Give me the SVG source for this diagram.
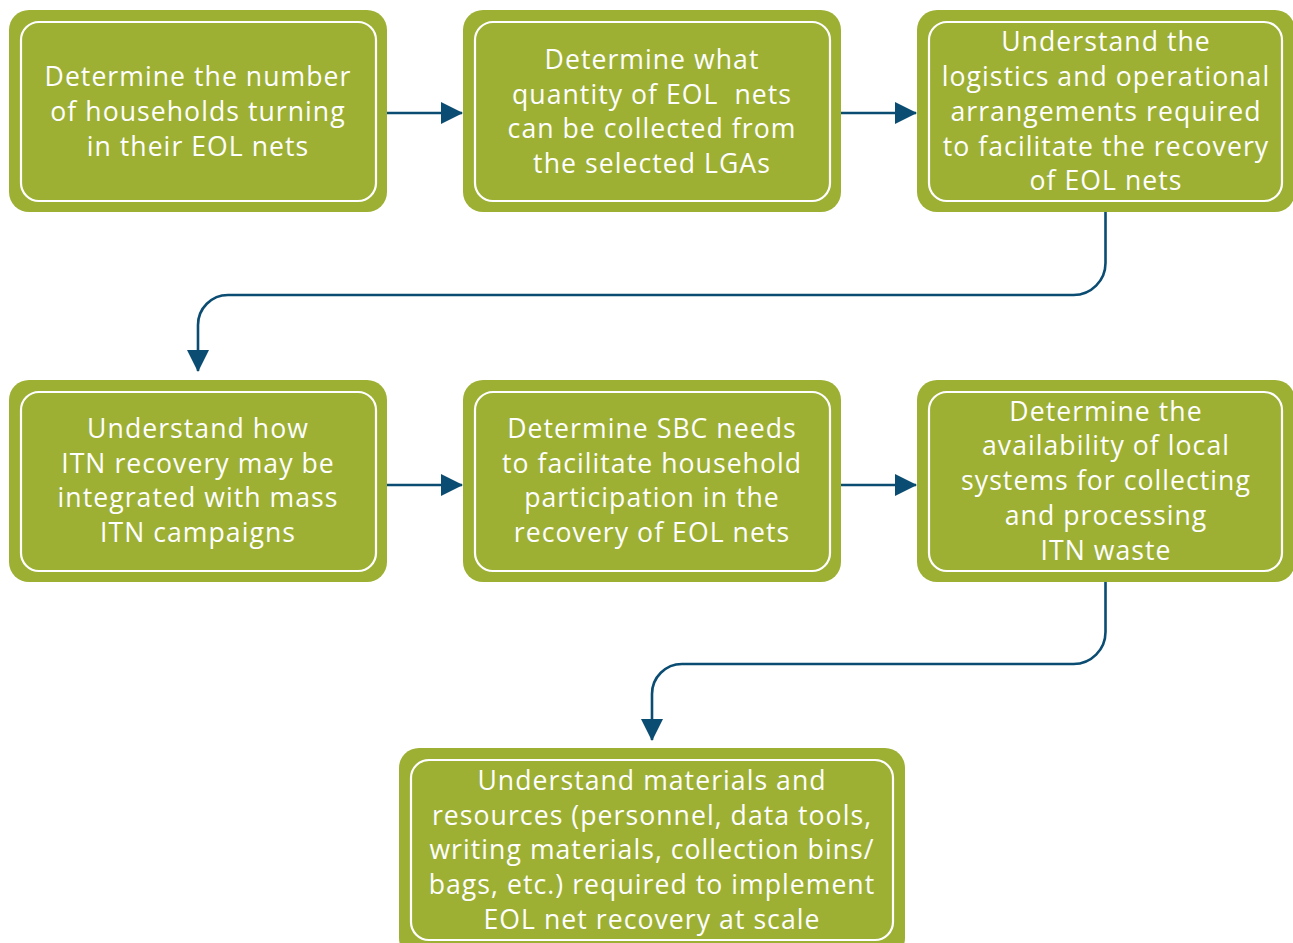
<svg xmlns="http://www.w3.org/2000/svg" width="1293" height="943" viewBox="0 0 1293 943">
<style>
.outer{fill:#9DB034;}
.inner{fill:none;stroke:#ffffff;stroke-width:2.2;}
.t{font-family:"Open Sans","Liberation Sans",sans-serif;font-size:26.6px;fill:#ffffff;text-anchor:middle;letter-spacing:1.05px;white-space:pre;}
.c{fill:none;stroke:#0B4C72;stroke-width:2.6;}
</style>
<defs>
<marker id="ah" viewBox="0 0 22 22" refX="21" refY="11" markerWidth="22" markerHeight="22" markerUnits="userSpaceOnUse" orient="auto">
<path d="M0,0 L22,11 L0,22 Z" fill="#0B4C72"/>
</marker>
</defs>
<g id="connectors">
<path class="c" d="M387,113 H462" marker-end="url(#ah)"/>
<path class="c" d="M841,113 H916" marker-end="url(#ah)"/>
<path class="c" d="M387,485 H462" marker-end="url(#ah)"/>
<path class="c" d="M841,485 H916" marker-end="url(#ah)"/>
<path class="c" d="M1105.5,212 V263 A32,32 0 0 1 1073.5,295 H228 A30,30 0 0 0 198,325 V371" marker-end="url(#ah)"/>
<path class="c" d="M1105.5,582 V632 A32,32 0 0 1 1073.5,664 H682 A30,30 0 0 0 652,694 V740" marker-end="url(#ah)"/>
</g>
<g id="n1">
<rect class="outer" x="9" y="10" width="378" height="202" rx="20"/>
<rect class="inner" x="21" y="22" width="355" height="179" rx="18"/>
<text class="t"><tspan x="198" y="86">Determine the number</tspan><tspan x="198" y="121">of households turning</tspan><tspan x="198" y="156">in their EOL nets</tspan></text>
</g>
<g id="n2">
<rect class="outer" x="463" y="10" width="378" height="202" rx="20"/>
<rect class="inner" x="475" y="22" width="355" height="179" rx="18"/>
<text class="t"><tspan x="652" y="69">Determine what</tspan><tspan x="652" y="104">quantity of EOL  nets</tspan><tspan x="652" y="138">can be collected from</tspan><tspan x="652" y="173">the selected LGAs</tspan></text>
</g>
<g id="n3">
<rect class="outer" x="917" y="10" width="378" height="202" rx="20"/>
<rect class="inner" x="929" y="22" width="353" height="179" rx="18"/>
<text class="t"><tspan x="1106" y="51">Understand the</tspan><tspan x="1106" y="86">logistics and operational</tspan><tspan x="1106" y="121">arrangements required</tspan><tspan x="1106" y="156">to facilitate the recovery</tspan><tspan x="1106" y="190">of EOL nets</tspan></text>
</g>
<g id="n4">
<rect class="outer" x="9" y="380" width="378" height="202" rx="20"/>
<rect class="inner" x="21" y="392" width="355" height="179" rx="18"/>
<text class="t"><tspan x="198" y="438">Understand how</tspan><tspan x="198" y="473">ITN recovery may be</tspan><tspan x="198" y="507">integrated with mass</tspan><tspan x="198" y="542">ITN campaigns</tspan></text>
</g>
<g id="n5">
<rect class="outer" x="463" y="380" width="378" height="202" rx="20"/>
<rect class="inner" x="475" y="392" width="355" height="179" rx="18"/>
<text class="t"><tspan x="652" y="438">Determine SBC needs</tspan><tspan x="652" y="473">to facilitate household</tspan><tspan x="652" y="507">participation in the</tspan><tspan x="652" y="542">recovery of EOL nets</tspan></text>
</g>
<g id="n6">
<rect class="outer" x="917" y="380" width="378" height="202" rx="20"/>
<rect class="inner" x="929" y="392" width="353" height="179" rx="18"/>
<text class="t"><tspan x="1106" y="421">Determine the</tspan><tspan x="1106" y="455">availability of local</tspan><tspan x="1106" y="490">systems for collecting</tspan><tspan x="1106" y="525">and processing</tspan><tspan x="1106" y="560">ITN waste</tspan></text>
</g>
<g id="n7">
<rect class="outer" x="399" y="748" width="506" height="210" rx="20"/>
<rect class="inner" x="411" y="760" width="482" height="180" rx="18"/>
<text class="t"><tspan x="652" y="790">Understand materials and</tspan><tspan x="652" y="825">resources (personnel, data tools,</tspan><tspan x="652" y="859">writing materials, collection bins/</tspan><tspan x="652" y="894">bags, etc.) required to implement</tspan><tspan x="652" y="929">EOL net recovery at scale</tspan></text>
</g>
</svg>
